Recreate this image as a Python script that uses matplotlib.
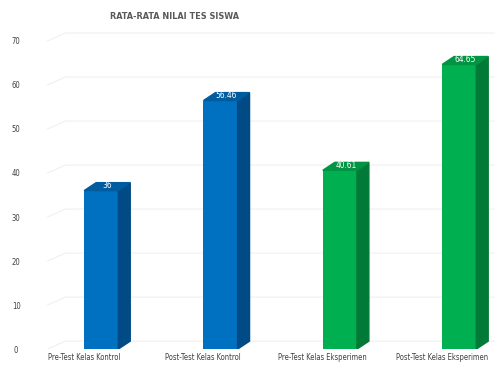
import matplotlib
matplotlib.use("Agg")
import matplotlib.pyplot as plt
from matplotlib.patches import Polygon

plt.rcParams['font.family'] = ['DejaVu Sans']
plt.rcParams['font.stretch'] = 'condensed'

# data
kategori = ["Pre-Test Kelas Kontrol", "Post-Test Kelas Kontrol",
            "Pre-Test Kelas Eksperimen", "Post-Test Kelas Eksperimen"]
nilai = [36, 56.46, 40.61, 64.65]
label_nilai = ["36", "56.46", "40.61", "64.65"]
yticks = [0, 10, 20, 30, 40, 50, 60, 70]

warna_depan = ["#0070C0", "#0070C0", "#00B050", "#00B050"]
warna_samping = ["#004A85", "#004A85", "#007A36", "#007A36"]
warna_atas = ["#005C9E", "#005C9E", "#009443", "#009443"]

fig = plt.figure(figsize=(5, 3.69), dpi=100)
ax = fig.add_axes([0.06, 0.054, 0.93, 0.859])

lebar = 0.286
dx = 0.1   # depth in x
dy = 1.8   # depth in y

# back-wall gridlines
for v in yticks:
    ax.plot([-0.45, -0.3, 3.35], [v, v + dy, v + dy], color="#f0f0f0", lw=0.8, zorder=0)

for i, v in enumerate(nilai):
    x0 = i - lebar / 2
    x1 = i + lebar / 2
    ax.bar(i, v, width=lebar, color=warna_depan[i], zorder=2)
    ax.add_patch(Polygon([[x1, 0], [x1 + dx, dy], [x1 + dx, v + dy], [x1, v]],
                         closed=True, color=warna_samping[i], zorder=2))
    ax.add_patch(Polygon([[x0, v], [x0 + dx, v + dy], [x1 + dx, v + dy], [x1, v]],
                         closed=True, color=warna_atas[i], zorder=2))
    ax.text(i + dx / 2, v + dy * 0.1, label_nilai[i], color="white", fontsize=6,
            ha="center", va="bottom", zorder=3)

ax.set_xlim(-0.597, 3.30)
ax.set_ylim(0, 72)
ax.set_yticks(yticks)
# category labels sit a little left of the bars (perspective)
ax.set_xticks([i - 0.145 for i in range(len(kategori))])
ax.set_xticklabels(kategori, fontsize=5.5, color="#404040")
ax.tick_params(axis="x", length=0, pad=3)
for s in ax.spines.values():
    s.set_visible(False)
for lab in ax.get_yticklabels():
    lab.set_horizontalalignment("center")
ax.tick_params(axis="y", labelsize=5.5, labelcolor="#404040", length=0, pad=10)

fig.text(0.35, 0.954, "RATA-RATA NILAI TES SISWA", fontsize=6.5, fontweight="bold",
         color="#595959", ha="center", va="center")

fig.savefig("out.png", dpi=100)
